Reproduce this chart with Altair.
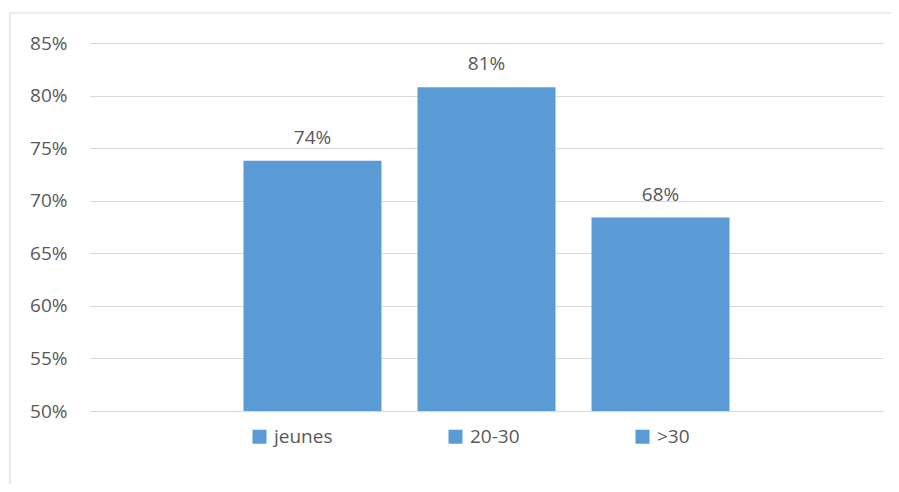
import altair as alt
import pandas as pd

groups = ["jeunes", "20-30", ">30"]
values = [0.738, 0.808, 0.684]
y_ticks = [0.50, 0.55, 0.60, 0.65, 0.70, 0.75, 0.80, 0.85]

df = pd.DataFrame({"group": groups, "value": values})

FONT = "Open Sans"
TXT = "#595959"
BAR = "#5B9BD5"
GRID = "#D9D9D9"

x_scale = alt.Scale(paddingInner=0.207, paddingOuter=0.882)
y_scale = alt.Scale(domain=[0.5, 0.85], zero=False, nice=False)

bars = alt.Chart(df).mark_bar(color=BAR).encode(
    x=alt.X("group:N", sort=groups, axis=None, scale=x_scale),
    y=alt.Y(
        "value:Q",
        scale=y_scale,
        axis=alt.Axis(
            values=y_ticks,
            format=".0%",
            title=None,
            domain=False,
            ticks=False,
            grid=True,
            gridColor=GRID,
            gridWidth=1,
            labelFont=FONT,
            labelFontSize=19,
            labelColor=TXT,
            labelPadding=23,
        ),
    ),
    y2=alt.datum(0.5),
    color=alt.Color(
        "group:N",
        sort=groups,
        scale=alt.Scale(domain=groups, range=[BAR, BAR, BAR]),
        legend=alt.Legend(
            title=None,
            orient="none",
            legendX=160,
            legendY=384,
            direction="horizontal",
            symbolType="square",
            symbolSize=196,
            symbolStrokeWidth=0,
            symbolFillColor=BAR,
            labelFont=FONT,
            labelFontSize=19,
            labelColor=TXT,
            labelOffset=5,
            columnPadding=113,
            padding=0,
        ),
    ),
)

labels = alt.Chart(df).mark_text(
    font=FONT, fontSize=19, color=TXT, baseline="alphabetic", dy=-17
).encode(
    x=alt.X("group:N", sort=groups, axis=None, scale=x_scale),
    y=alt.Y("value:Q", scale=y_scale),
    text=alt.Text("value:Q", format=".0%"),
)

border = alt.Chart(df.head(1)).mark_rect(
    fill="transparent", stroke=GRID, strokeWidth=1.2
).encode(
    x=alt.value(-80),
    x2=alt.value(830),
    y=alt.value(-30),
    y2=alt.value(470),
)

chart = (
    alt.layer(border, bars, labels)
    .properties(
        width=793,
        height=368,
        autosize=alt.AutoSizeParams(type="none"),
        padding={"left": 82, "top": 35, "right": 8, "bottom": 73},
    )
    .configure(background="white")
    .configure_view(strokeWidth=0, stroke="transparent")
)

chart.save("out.html", embed_options={"renderer": "svg", "actions": False})
